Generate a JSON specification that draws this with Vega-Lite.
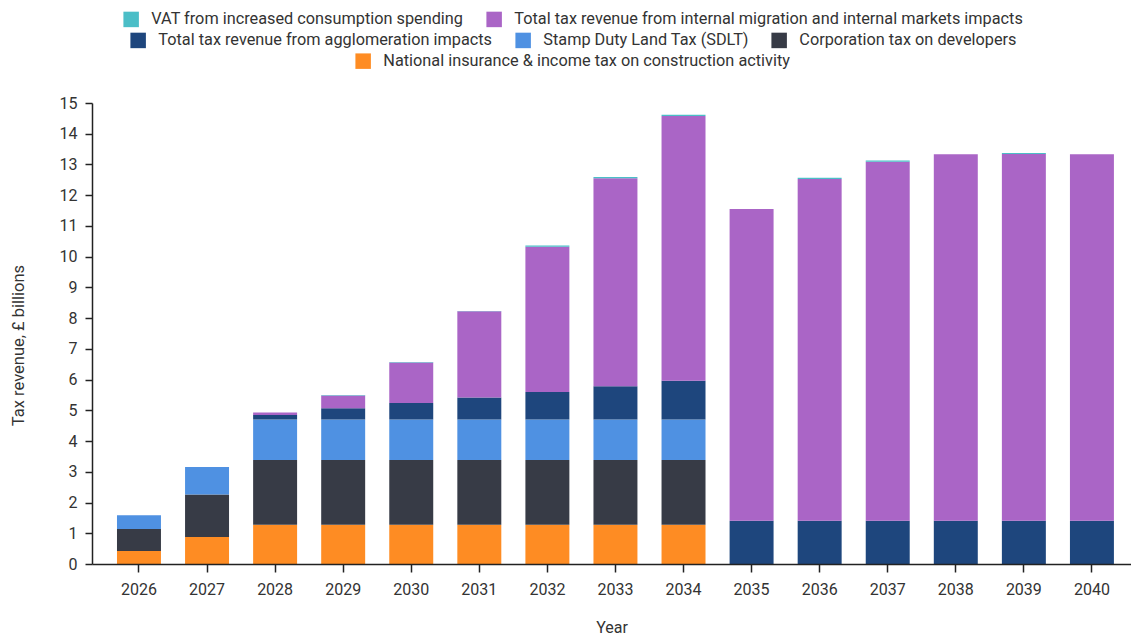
{
  "$schema": "https://vega.github.io/schema/vega-lite/v6.json",
  "width": 1039,
  "height": 461,
  "autosize": {"type": "none"},
  "padding": {"left": 92, "top": 103, "right": 0, "bottom": 76},
  "config": {
    "font": "Roboto",
    "view": {"stroke": null},
    "legend": {
      "labelFontSize": 16.3,
      "labelColor": "#333333",
      "labelFont": "Roboto",
      "symbolType": "square",
      "symbolSize": 240,
      "symbolStrokeWidth": 0,
      "columnPadding": 22,
      "labelOffset": 12,
      "labelLimit": 1000,
      "direction": "horizontal",
      "orient": "none",
      "title": null
    }
  },
  "datasets": {
    "series_order": [
      {"series": "National insurance & income tax on construction activity", "rank": 1},
      {"series": "Corporation tax on developers", "rank": 2},
      {"series": "Stamp Duty Land Tax (SDLT)", "rank": 3},
      {"series": "Total tax revenue from agglomeration impacts", "rank": 4},
      {"series": "Total tax revenue from internal migration and internal markets impacts", "rank": 5},
      {"series": "VAT from increased consumption spending", "rank": 6}
    ]
  },
  "data": {
    "values": [
      {"year": "2026", "series": "National insurance & income tax on construction activity", "value": 0.42},
      {"year": "2026", "series": "Corporation tax on developers", "value": 0.72},
      {"year": "2026", "series": "Stamp Duty Land Tax (SDLT)", "value": 0.45},
      {"year": "2027", "series": "National insurance & income tax on construction activity", "value": 0.88},
      {"year": "2027", "series": "Corporation tax on developers", "value": 1.38},
      {"year": "2027", "series": "Stamp Duty Land Tax (SDLT)", "value": 0.90},
      {"year": "2028", "series": "National insurance & income tax on construction activity", "value": 1.28},
      {"year": "2028", "series": "Corporation tax on developers", "value": 2.10},
      {"year": "2028", "series": "Stamp Duty Land Tax (SDLT)", "value": 1.32},
      {"year": "2028", "series": "Total tax revenue from agglomeration impacts", "value": 0.15},
      {"year": "2028", "series": "Total tax revenue from internal migration and internal markets impacts", "value": 0.08},
      {"year": "2029", "series": "National insurance & income tax on construction activity", "value": 1.28},
      {"year": "2029", "series": "Corporation tax on developers", "value": 2.10},
      {"year": "2029", "series": "Stamp Duty Land Tax (SDLT)", "value": 1.32},
      {"year": "2029", "series": "Total tax revenue from agglomeration impacts", "value": 0.37},
      {"year": "2029", "series": "Total tax revenue from internal migration and internal markets impacts", "value": 0.41},
      {"year": "2029", "series": "VAT from increased consumption spending", "value": 0.02},
      {"year": "2030", "series": "National insurance & income tax on construction activity", "value": 1.28},
      {"year": "2030", "series": "Corporation tax on developers", "value": 2.10},
      {"year": "2030", "series": "Stamp Duty Land Tax (SDLT)", "value": 1.32},
      {"year": "2030", "series": "Total tax revenue from agglomeration impacts", "value": 0.54},
      {"year": "2030", "series": "Total tax revenue from internal migration and internal markets impacts", "value": 1.32},
      {"year": "2030", "series": "VAT from increased consumption spending", "value": 0.01},
      {"year": "2031", "series": "National insurance & income tax on construction activity", "value": 1.28},
      {"year": "2031", "series": "Corporation tax on developers", "value": 2.10},
      {"year": "2031", "series": "Stamp Duty Land Tax (SDLT)", "value": 1.32},
      {"year": "2031", "series": "Total tax revenue from agglomeration impacts", "value": 0.72},
      {"year": "2031", "series": "Total tax revenue from internal migration and internal markets impacts", "value": 2.80},
      {"year": "2031", "series": "VAT from increased consumption spending", "value": 0.01},
      {"year": "2032", "series": "National insurance & income tax on construction activity", "value": 1.28},
      {"year": "2032", "series": "Corporation tax on developers", "value": 2.10},
      {"year": "2032", "series": "Stamp Duty Land Tax (SDLT)", "value": 1.32},
      {"year": "2032", "series": "Total tax revenue from agglomeration impacts", "value": 0.90},
      {"year": "2032", "series": "Total tax revenue from internal migration and internal markets impacts", "value": 4.72},
      {"year": "2032", "series": "VAT from increased consumption spending", "value": 0.04},
      {"year": "2033", "series": "National insurance & income tax on construction activity", "value": 1.28},
      {"year": "2033", "series": "Corporation tax on developers", "value": 2.10},
      {"year": "2033", "series": "Stamp Duty Land Tax (SDLT)", "value": 1.32},
      {"year": "2033", "series": "Total tax revenue from agglomeration impacts", "value": 1.08},
      {"year": "2033", "series": "Total tax revenue from internal migration and internal markets impacts", "value": 6.77},
      {"year": "2033", "series": "VAT from increased consumption spending", "value": 0.04},
      {"year": "2034", "series": "National insurance & income tax on construction activity", "value": 1.28},
      {"year": "2034", "series": "Corporation tax on developers", "value": 2.10},
      {"year": "2034", "series": "Stamp Duty Land Tax (SDLT)", "value": 1.32},
      {"year": "2034", "series": "Total tax revenue from agglomeration impacts", "value": 1.26},
      {"year": "2034", "series": "Total tax revenue from internal migration and internal markets impacts", "value": 8.62},
      {"year": "2034", "series": "VAT from increased consumption spending", "value": 0.04},
      {"year": "2035", "series": "Total tax revenue from agglomeration impacts", "value": 1.41},
      {"year": "2035", "series": "Total tax revenue from internal migration and internal markets impacts", "value": 10.14},
      {"year": "2036", "series": "Total tax revenue from agglomeration impacts", "value": 1.41},
      {"year": "2036", "series": "Total tax revenue from internal migration and internal markets impacts", "value": 11.12},
      {"year": "2036", "series": "VAT from increased consumption spending", "value": 0.04},
      {"year": "2037", "series": "Total tax revenue from agglomeration impacts", "value": 1.41},
      {"year": "2037", "series": "Total tax revenue from internal migration and internal markets impacts", "value": 11.68},
      {"year": "2037", "series": "VAT from increased consumption spending", "value": 0.04},
      {"year": "2038", "series": "Total tax revenue from agglomeration impacts", "value": 1.41},
      {"year": "2038", "series": "Total tax revenue from internal migration and internal markets impacts", "value": 11.92},
      {"year": "2039", "series": "Total tax revenue from agglomeration impacts", "value": 1.41},
      {"year": "2039", "series": "Total tax revenue from internal migration and internal markets impacts", "value": 11.93},
      {"year": "2039", "series": "VAT from increased consumption spending", "value": 0.03},
      {"year": "2040", "series": "Total tax revenue from agglomeration impacts", "value": 1.41},
      {"year": "2040", "series": "Total tax revenue from internal migration and internal markets impacts", "value": 11.92}
    ]
  },
  "encoding": {
    "x": {
      "field": "year",
      "type": "ordinal",
      "title": "Year",
      "scale": {"paddingInner": 0.354, "paddingOuter": 0.309, "align": 0.594},
      "axis": {
        "labelAngle": 0,
        "labelFontSize": 16,
        "labelColor": "#333333",
        "labelPadding": 9,
        "tickSize": 8,
        "tickColor": "#222222",
        "tickWidth": 1.5,
        "domainColor": "#222222",
        "domainWidth": 1.5,
        "titleFontSize": 16,
        "titleFontWeight": "normal",
        "titleColor": "#333333",
        "titlePadding": 22,
        "zindex": 1,
        "encode": {"ticks": {"update": {"y": {"value": -9}, "y2": {"value": 8}}}}
      }
    },
    "y": {
      "field": "value",
      "type": "quantitative",
      "title": "Tax revenue, £ billions",
      "scale": {"domain": [0, 15], "nice": false},
      "axis": {
        "values": [0, 1, 2, 3, 4, 5, 6, 7, 8, 9, 10, 11, 12, 13, 14, 15],
        "grid": false,
        "labelFontSize": 16,
        "labelColor": "#333333",
        "labelPadding": 8,
        "tickSize": 7,
        "tickColor": "#222222",
        "tickWidth": 1.5,
        "domainColor": "#222222",
        "domainWidth": 1.5,
        "titleFontSize": 16.5,
        "titleFontWeight": "normal",
        "titleColor": "#333333",
        "titlePadding": 33,
        "titleY": 242,
        "encode": {"ticks": {"update": {"x": {"value": -7}, "x2": {"value": 8}}}}
      }
    }
  },
  "layer": [
    {
      "transform": [{"filter": {"field": "series", "oneOf": ["Total tax revenue from agglomeration impacts", "Stamp Duty Land Tax (SDLT)", "Corporation tax on developers"]}}],
      "mark": {"type": "point", "filled": true, "opacity": 0},
      "encoding": {
        "fill": {
          "field": "series",
          "type": "nominal",
          "sort": ["Total tax revenue from agglomeration impacts", "Stamp Duty Land Tax (SDLT)", "Corporation tax on developers"],
          "scale": {
            "domain": ["Total tax revenue from agglomeration impacts", "Stamp Duty Land Tax (SDLT)", "Corporation tax on developers"],
            "range": ["#1E467D", "#4F91E2", "#373B46"]
          },
          "legend": {
            "legendX": 38,
            "legendY": -71,
            "encode": {"symbols": {"update": {"opacity": {"value": 1}}}}
          }
        }
      }
    },
    {
      "transform": [{"filter": {"field": "series", "oneOf": ["National insurance & income tax on construction activity"]}}],
      "mark": {"type": "point", "filled": true, "opacity": 0, "color": "#FE8C23"},
      "encoding": {
        "stroke": {
          "field": "series",
          "type": "nominal",
          "scale": {
            "domain": ["National insurance & income tax on construction activity"],
            "range": ["#FE8C23"]
          },
          "legend": {
            "legendX": 263,
            "legendY": -50,
            "symbolFillColor": "#FE8C23",
            "encode": {"symbols": {"update": {"opacity": {"value": 1}, "fill": {"value": "#FE8C23"}}}}
          }
        }
      }
    },
    {
      "transform": [{"lookup": "series", "from": {"data": {"name": "series_order"}, "key": "series", "fields": ["rank"]}}],
      "mark": {"type": "bar"},
      "encoding": {
        "order": {"field": "rank", "type": "quantitative", "sort": "ascending"},
        "color": {
          "field": "series",
          "type": "nominal",
          "scale": {
            "domain": ["VAT from increased consumption spending", "Total tax revenue from internal migration and internal markets impacts", "Total tax revenue from agglomeration impacts", "Stamp Duty Land Tax (SDLT)", "Corporation tax on developers", "National insurance & income tax on construction activity"],
            "range": ["#4BBEC7", "#AA65C6", "#1E467D", "#4F91E2", "#373B46", "#FE8C23"]
          },
          "legend": {
            "values": ["VAT from increased consumption spending", "Total tax revenue from internal migration and internal markets impacts"],
            "legendX": 31,
            "legendY": -92,
            "encode": {"symbols": {"update": {"opacity": {"value": 1}}}}
          }
        }
      }
    }
  ]
}
